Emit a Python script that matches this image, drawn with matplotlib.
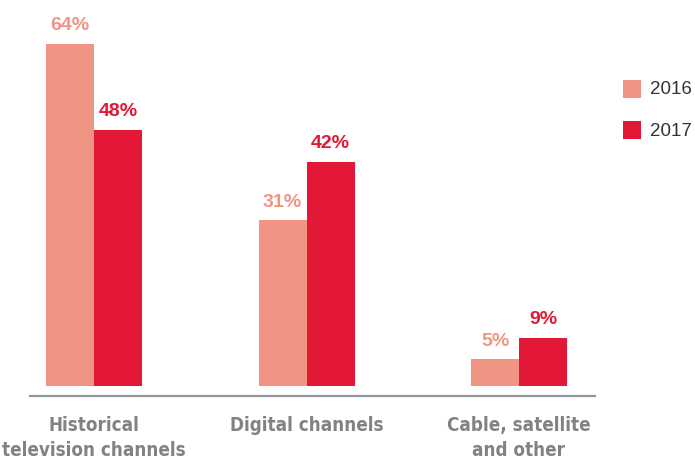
import matplotlib
matplotlib.use("Agg")
import matplotlib.pyplot as plt
from matplotlib.patches import Rectangle
from matplotlib import font_manager
import numpy as np

categories = ["Historical\ntelevision channels", "Digital channels", "Cable, satellite\nand other"]
series_names = ["2016", "2017"]
values_2016 = [64, 31, 5]
values_2017 = [48, 42, 9]
colors = ["#F09484", "#E31837"]

W, H = 695, 460
fig = plt.figure(figsize=(W / 100, H / 100), dpi=100)

# find a condensed bold font file
cands = []
for f in font_manager.fontManager.ttflist:
    n = f.fname.lower()
    if ("narrow" in n or "condensed" in n) and ("bold" in n) and "oblique" not in n and "italic" not in n:
        cands.append(f.fname)
pref = None
for key in ["liberationsansnarrow-bold", "dejavusanscondensed-bold"]:
    for c in cands:
        if key in c.lower().replace("_", "").replace(" ", ""):
            pref = c
            break
    if pref:
        break
if pref is None and cands:
    pref = cands[0]
cat_fp = font_manager.FontProperties(fname=pref, size=13.5) if pref else font_manager.FontProperties(family="Liberation Sans", weight="bold", size=13)

base = "Liberation Sans"

ax = fig.add_axes([30 / W, (H - 397) / H, 565 / W, 397 / H])

px_per_unit_x = 212.5
px_per_unit_y = 342 / 64
x = np.arange(len(categories))
bw = 48 / px_per_unit_x

ax.set_xlim((30 - 94) / px_per_unit_x, (595 - 94) / px_per_unit_x)
ax.set_ylim(-10 / px_per_unit_y, 387 / px_per_unit_y)

for vals, off, col in [(values_2016, -bw / 2, colors[0]), (values_2017, bw / 2, colors[1])]:
    ax.bar(x + off, vals, width=bw, color=col, linewidth=0)
    for xi, v in zip(x + off, vals):
        ax.annotate(f"{v}%", (xi, v), xytext=(0, 10.5), textcoords="offset points",
                    ha="center", va="baseline", fontsize=14, fontweight="bold",
                    color=col, family=base)

for s in ["top", "right", "left"]:
    ax.spines[s].set_visible(False)
ax.spines["bottom"].set_color("#939598")
ax.spines["bottom"].set_linewidth(1.6)
ax.set_yticks([])
ax.set_xticks([])

for xi, lab in zip(x, categories):
    ax.annotate(lab, (xi, 0), xycoords=("data", "axes fraction"),
                xytext=(0, -14), textcoords="offset points",
                ha="center", va="top", fontproperties=cat_fp,
                color="#808285", linespacing=1.4)

for i, (name, col) in enumerate(zip(series_names, colors)):
    y_top = 81 + i * 41
    fig.patches.append(Rectangle((623 / W, (H - y_top - 18) / H), 18 / W, 18 / H,
                                 transform=fig.transFigure, color=col, lw=0))
    fig.text(650 / W, (H - y_top - 9) / H, name, ha="left", va="center",
             fontsize=13.5, color="#333333", family=base)

fig.savefig("out.png", dpi=100)
